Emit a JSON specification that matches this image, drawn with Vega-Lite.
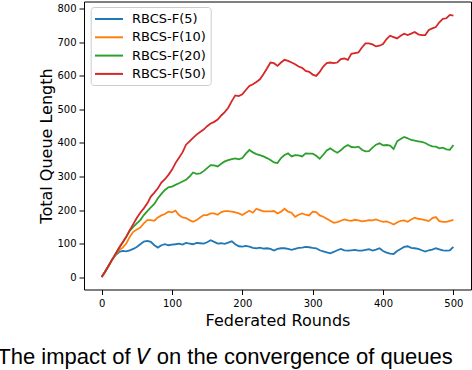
{
  "$schema": "https://vega.github.io/schema/vega-lite/v6.json",
  "width": 387,
  "height": 288,
  "autosize": {"type": "none"},
  "padding": {"left": 84, "top": 1.5, "right": 1, "bottom": 80.5},
  "background": "white",
  "title": {
    "text": "The impact of 𝑉 on the convergence of queues",
    "orient": "bottom",
    "frame": "group",
    "anchor": "middle",
    "dx": -52.5,
    "offset": 36,
    "baseline": "alphabetic",
    "font": "Liberation Sans",
    "fontSize": 22,
    "fontWeight": "normal",
    "color": "black"
  },
  "config": {
    "view": {"stroke": "black", "strokeWidth": 1},
    "axis": {
      "domain": false,
      "grid": false,
      "ticks": true,
      "tickColor": "black",
      "tickSize": 5,
      "tickWidth": 1,
      "labelFont": "DejaVu Sans",
      "labelFontSize": 10,
      "labelColor": "black",
      "titleFont": "DejaVu Sans",
      "titleFontSize": 16,
      "titleFontWeight": "normal",
      "titleColor": "black"
    }
  },
  "data": {
    "values": [
      {"r":0,"s":"RBCS-F(5)","v":0},{"r":5,"s":"RBCS-F(5)","v":16},{"r":10,"s":"RBCS-F(5)","v":34},{"r":15,"s":"RBCS-F(5)","v":52},{"r":20,"s":"RBCS-F(5)","v":66},{"r":25,"s":"RBCS-F(5)","v":75},{"r":30,"s":"RBCS-F(5)","v":78},{"r":35,"s":"RBCS-F(5)","v":77},{"r":40,"s":"RBCS-F(5)","v":80},{"r":45,"s":"RBCS-F(5)","v":84},{"r":50,"s":"RBCS-F(5)","v":90},{"r":55,"s":"RBCS-F(5)","v":98},{"r":60,"s":"RBCS-F(5)","v":106},{"r":65,"s":"RBCS-F(5)","v":108},{"r":70,"s":"RBCS-F(5)","v":105},{"r":75,"s":"RBCS-F(5)","v":95},{"r":80,"s":"RBCS-F(5)","v":88},{"r":85,"s":"RBCS-F(5)","v":95},{"r":90,"s":"RBCS-F(5)","v":98},{"r":95,"s":"RBCS-F(5)","v":95},{"r":100,"s":"RBCS-F(5)","v":97},{"r":105,"s":"RBCS-F(5)","v":98},{"r":110,"s":"RBCS-F(5)","v":100},{"r":115,"s":"RBCS-F(5)","v":97},{"r":120,"s":"RBCS-F(5)","v":102},{"r":125,"s":"RBCS-F(5)","v":100},{"r":130,"s":"RBCS-F(5)","v":98},{"r":135,"s":"RBCS-F(5)","v":102},{"r":140,"s":"RBCS-F(5)","v":101},{"r":145,"s":"RBCS-F(5)","v":100},{"r":150,"s":"RBCS-F(5)","v":104},{"r":155,"s":"RBCS-F(5)","v":110},{"r":160,"s":"RBCS-F(5)","v":105},{"r":165,"s":"RBCS-F(5)","v":100},{"r":170,"s":"RBCS-F(5)","v":101},{"r":175,"s":"RBCS-F(5)","v":99},{"r":180,"s":"RBCS-F(5)","v":103},{"r":185,"s":"RBCS-F(5)","v":107},{"r":190,"s":"RBCS-F(5)","v":98},{"r":195,"s":"RBCS-F(5)","v":92},{"r":200,"s":"RBCS-F(5)","v":91},{"r":205,"s":"RBCS-F(5)","v":93},{"r":210,"s":"RBCS-F(5)","v":91},{"r":215,"s":"RBCS-F(5)","v":87},{"r":220,"s":"RBCS-F(5)","v":86},{"r":225,"s":"RBCS-F(5)","v":88},{"r":230,"s":"RBCS-F(5)","v":85},{"r":235,"s":"RBCS-F(5)","v":86},{"r":240,"s":"RBCS-F(5)","v":84},{"r":245,"s":"RBCS-F(5)","v":79},{"r":250,"s":"RBCS-F(5)","v":84},{"r":255,"s":"RBCS-F(5)","v":86},{"r":260,"s":"RBCS-F(5)","v":86},{"r":265,"s":"RBCS-F(5)","v":84},{"r":270,"s":"RBCS-F(5)","v":81},{"r":275,"s":"RBCS-F(5)","v":84},{"r":280,"s":"RBCS-F(5)","v":87},{"r":285,"s":"RBCS-F(5)","v":88},{"r":290,"s":"RBCS-F(5)","v":90},{"r":295,"s":"RBCS-F(5)","v":89},{"r":300,"s":"RBCS-F(5)","v":87},{"r":305,"s":"RBCS-F(5)","v":86},{"r":310,"s":"RBCS-F(5)","v":80},{"r":315,"s":"RBCS-F(5)","v":77},{"r":320,"s":"RBCS-F(5)","v":74},{"r":325,"s":"RBCS-F(5)","v":71},{"r":330,"s":"RBCS-F(5)","v":75},{"r":335,"s":"RBCS-F(5)","v":80},{"r":340,"s":"RBCS-F(5)","v":84},{"r":345,"s":"RBCS-F(5)","v":80},{"r":350,"s":"RBCS-F(5)","v":79},{"r":355,"s":"RBCS-F(5)","v":80},{"r":360,"s":"RBCS-F(5)","v":81},{"r":365,"s":"RBCS-F(5)","v":79},{"r":370,"s":"RBCS-F(5)","v":79},{"r":375,"s":"RBCS-F(5)","v":81},{"r":380,"s":"RBCS-F(5)","v":83},{"r":385,"s":"RBCS-F(5)","v":79},{"r":390,"s":"RBCS-F(5)","v":82},{"r":395,"s":"RBCS-F(5)","v":86},{"r":400,"s":"RBCS-F(5)","v":78},{"r":405,"s":"RBCS-F(5)","v":73},{"r":410,"s":"RBCS-F(5)","v":70},{"r":415,"s":"RBCS-F(5)","v":69},{"r":420,"s":"RBCS-F(5)","v":78},{"r":425,"s":"RBCS-F(5)","v":84},{"r":430,"s":"RBCS-F(5)","v":90},{"r":435,"s":"RBCS-F(5)","v":92},{"r":440,"s":"RBCS-F(5)","v":87},{"r":445,"s":"RBCS-F(5)","v":86},{"r":450,"s":"RBCS-F(5)","v":84},{"r":455,"s":"RBCS-F(5)","v":80},{"r":460,"s":"RBCS-F(5)","v":76},{"r":465,"s":"RBCS-F(5)","v":80},{"r":470,"s":"RBCS-F(5)","v":82},{"r":475,"s":"RBCS-F(5)","v":86},{"r":480,"s":"RBCS-F(5)","v":83},{"r":485,"s":"RBCS-F(5)","v":80},{"r":490,"s":"RBCS-F(5)","v":79},{"r":495,"s":"RBCS-F(5)","v":80},{"r":500,"s":"RBCS-F(5)","v":90},
      {"r":0,"s":"RBCS-F(10)","v":0},{"r":5,"s":"RBCS-F(10)","v":16},{"r":10,"s":"RBCS-F(10)","v":34},{"r":15,"s":"RBCS-F(10)","v":52},{"r":20,"s":"RBCS-F(10)","v":68},{"r":25,"s":"RBCS-F(10)","v":80},{"r":30,"s":"RBCS-F(10)","v":88},{"r":35,"s":"RBCS-F(10)","v":100},{"r":40,"s":"RBCS-F(10)","v":120},{"r":45,"s":"RBCS-F(10)","v":135},{"r":50,"s":"RBCS-F(10)","v":142},{"r":55,"s":"RBCS-F(10)","v":148},{"r":60,"s":"RBCS-F(10)","v":160},{"r":65,"s":"RBCS-F(10)","v":170},{"r":70,"s":"RBCS-F(10)","v":170},{"r":75,"s":"RBCS-F(10)","v":168},{"r":80,"s":"RBCS-F(10)","v":178},{"r":85,"s":"RBCS-F(10)","v":184},{"r":90,"s":"RBCS-F(10)","v":188},{"r":95,"s":"RBCS-F(10)","v":195},{"r":100,"s":"RBCS-F(10)","v":193},{"r":105,"s":"RBCS-F(10)","v":198},{"r":110,"s":"RBCS-F(10)","v":185},{"r":115,"s":"RBCS-F(10)","v":178},{"r":120,"s":"RBCS-F(10)","v":176},{"r":125,"s":"RBCS-F(10)","v":170},{"r":130,"s":"RBCS-F(10)","v":165},{"r":135,"s":"RBCS-F(10)","v":170},{"r":140,"s":"RBCS-F(10)","v":178},{"r":145,"s":"RBCS-F(10)","v":185},{"r":150,"s":"RBCS-F(10)","v":185},{"r":155,"s":"RBCS-F(10)","v":190},{"r":160,"s":"RBCS-F(10)","v":190},{"r":165,"s":"RBCS-F(10)","v":186},{"r":170,"s":"RBCS-F(10)","v":194},{"r":175,"s":"RBCS-F(10)","v":197},{"r":180,"s":"RBCS-F(10)","v":197},{"r":185,"s":"RBCS-F(10)","v":195},{"r":190,"s":"RBCS-F(10)","v":193},{"r":195,"s":"RBCS-F(10)","v":190},{"r":200,"s":"RBCS-F(10)","v":185},{"r":205,"s":"RBCS-F(10)","v":192},{"r":210,"s":"RBCS-F(10)","v":198},{"r":215,"s":"RBCS-F(10)","v":192},{"r":220,"s":"RBCS-F(10)","v":204},{"r":225,"s":"RBCS-F(10)","v":200},{"r":230,"s":"RBCS-F(10)","v":196},{"r":235,"s":"RBCS-F(10)","v":196},{"r":240,"s":"RBCS-F(10)","v":196},{"r":245,"s":"RBCS-F(10)","v":197},{"r":250,"s":"RBCS-F(10)","v":190},{"r":255,"s":"RBCS-F(10)","v":195},{"r":260,"s":"RBCS-F(10)","v":204},{"r":265,"s":"RBCS-F(10)","v":195},{"r":270,"s":"RBCS-F(10)","v":192},{"r":275,"s":"RBCS-F(10)","v":180},{"r":280,"s":"RBCS-F(10)","v":186},{"r":285,"s":"RBCS-F(10)","v":190},{"r":290,"s":"RBCS-F(10)","v":186},{"r":295,"s":"RBCS-F(10)","v":184},{"r":300,"s":"RBCS-F(10)","v":195},{"r":305,"s":"RBCS-F(10)","v":194},{"r":310,"s":"RBCS-F(10)","v":184},{"r":315,"s":"RBCS-F(10)","v":180},{"r":320,"s":"RBCS-F(10)","v":174},{"r":325,"s":"RBCS-F(10)","v":168},{"r":330,"s":"RBCS-F(10)","v":162},{"r":335,"s":"RBCS-F(10)","v":164},{"r":340,"s":"RBCS-F(10)","v":168},{"r":345,"s":"RBCS-F(10)","v":172},{"r":350,"s":"RBCS-F(10)","v":169},{"r":355,"s":"RBCS-F(10)","v":168},{"r":360,"s":"RBCS-F(10)","v":171},{"r":365,"s":"RBCS-F(10)","v":169},{"r":370,"s":"RBCS-F(10)","v":166},{"r":375,"s":"RBCS-F(10)","v":168},{"r":380,"s":"RBCS-F(10)","v":170},{"r":385,"s":"RBCS-F(10)","v":169},{"r":390,"s":"RBCS-F(10)","v":172},{"r":395,"s":"RBCS-F(10)","v":168},{"r":400,"s":"RBCS-F(10)","v":165},{"r":405,"s":"RBCS-F(10)","v":166},{"r":410,"s":"RBCS-F(10)","v":162},{"r":415,"s":"RBCS-F(10)","v":157},{"r":420,"s":"RBCS-F(10)","v":163},{"r":425,"s":"RBCS-F(10)","v":168},{"r":430,"s":"RBCS-F(10)","v":169},{"r":435,"s":"RBCS-F(10)","v":165},{"r":440,"s":"RBCS-F(10)","v":172},{"r":445,"s":"RBCS-F(10)","v":177},{"r":450,"s":"RBCS-F(10)","v":174},{"r":455,"s":"RBCS-F(10)","v":172},{"r":460,"s":"RBCS-F(10)","v":170},{"r":465,"s":"RBCS-F(10)","v":167},{"r":470,"s":"RBCS-F(10)","v":176},{"r":475,"s":"RBCS-F(10)","v":179},{"r":480,"s":"RBCS-F(10)","v":167},{"r":485,"s":"RBCS-F(10)","v":165},{"r":490,"s":"RBCS-F(10)","v":165},{"r":495,"s":"RBCS-F(10)","v":168},{"r":500,"s":"RBCS-F(10)","v":171},
      {"r":0,"s":"RBCS-F(20)","v":0},{"r":5,"s":"RBCS-F(20)","v":16},{"r":10,"s":"RBCS-F(20)","v":34},{"r":15,"s":"RBCS-F(20)","v":52},{"r":20,"s":"RBCS-F(20)","v":70},{"r":25,"s":"RBCS-F(20)","v":87},{"r":30,"s":"RBCS-F(20)","v":103},{"r":35,"s":"RBCS-F(20)","v":120},{"r":40,"s":"RBCS-F(20)","v":138},{"r":45,"s":"RBCS-F(20)","v":150},{"r":50,"s":"RBCS-F(20)","v":160},{"r":55,"s":"RBCS-F(20)","v":170},{"r":60,"s":"RBCS-F(20)","v":185},{"r":65,"s":"RBCS-F(20)","v":197},{"r":70,"s":"RBCS-F(20)","v":208},{"r":75,"s":"RBCS-F(20)","v":218},{"r":80,"s":"RBCS-F(20)","v":235},{"r":85,"s":"RBCS-F(20)","v":248},{"r":90,"s":"RBCS-F(20)","v":260},{"r":95,"s":"RBCS-F(20)","v":268},{"r":100,"s":"RBCS-F(20)","v":270},{"r":105,"s":"RBCS-F(20)","v":275},{"r":110,"s":"RBCS-F(20)","v":280},{"r":115,"s":"RBCS-F(20)","v":285},{"r":120,"s":"RBCS-F(20)","v":290},{"r":125,"s":"RBCS-F(20)","v":300},{"r":130,"s":"RBCS-F(20)","v":312},{"r":135,"s":"RBCS-F(20)","v":308},{"r":140,"s":"RBCS-F(20)","v":309},{"r":145,"s":"RBCS-F(20)","v":316},{"r":150,"s":"RBCS-F(20)","v":325},{"r":155,"s":"RBCS-F(20)","v":334},{"r":160,"s":"RBCS-F(20)","v":333},{"r":165,"s":"RBCS-F(20)","v":330},{"r":170,"s":"RBCS-F(20)","v":338},{"r":175,"s":"RBCS-F(20)","v":345},{"r":180,"s":"RBCS-F(20)","v":349},{"r":185,"s":"RBCS-F(20)","v":352},{"r":190,"s":"RBCS-F(20)","v":354},{"r":195,"s":"RBCS-F(20)","v":351},{"r":200,"s":"RBCS-F(20)","v":355},{"r":205,"s":"RBCS-F(20)","v":368},{"r":210,"s":"RBCS-F(20)","v":379},{"r":215,"s":"RBCS-F(20)","v":372},{"r":220,"s":"RBCS-F(20)","v":367},{"r":225,"s":"RBCS-F(20)","v":364},{"r":230,"s":"RBCS-F(20)","v":360},{"r":235,"s":"RBCS-F(20)","v":355},{"r":240,"s":"RBCS-F(20)","v":349},{"r":245,"s":"RBCS-F(20)","v":342},{"r":250,"s":"RBCS-F(20)","v":340},{"r":255,"s":"RBCS-F(20)","v":355},{"r":260,"s":"RBCS-F(20)","v":364},{"r":265,"s":"RBCS-F(20)","v":369},{"r":270,"s":"RBCS-F(20)","v":360},{"r":275,"s":"RBCS-F(20)","v":364},{"r":280,"s":"RBCS-F(20)","v":363},{"r":285,"s":"RBCS-F(20)","v":360},{"r":290,"s":"RBCS-F(20)","v":369},{"r":295,"s":"RBCS-F(20)","v":368},{"r":300,"s":"RBCS-F(20)","v":368},{"r":305,"s":"RBCS-F(20)","v":362},{"r":310,"s":"RBCS-F(20)","v":353},{"r":315,"s":"RBCS-F(20)","v":365},{"r":320,"s":"RBCS-F(20)","v":378},{"r":325,"s":"RBCS-F(20)","v":384},{"r":330,"s":"RBCS-F(20)","v":377},{"r":335,"s":"RBCS-F(20)","v":371},{"r":340,"s":"RBCS-F(20)","v":378},{"r":345,"s":"RBCS-F(20)","v":388},{"r":350,"s":"RBCS-F(20)","v":394},{"r":355,"s":"RBCS-F(20)","v":388},{"r":360,"s":"RBCS-F(20)","v":387},{"r":365,"s":"RBCS-F(20)","v":389},{"r":370,"s":"RBCS-F(20)","v":380},{"r":375,"s":"RBCS-F(20)","v":375},{"r":380,"s":"RBCS-F(20)","v":376},{"r":385,"s":"RBCS-F(20)","v":386},{"r":390,"s":"RBCS-F(20)","v":395},{"r":395,"s":"RBCS-F(20)","v":399},{"r":400,"s":"RBCS-F(20)","v":393},{"r":405,"s":"RBCS-F(20)","v":394},{"r":410,"s":"RBCS-F(20)","v":392},{"r":415,"s":"RBCS-F(20)","v":382},{"r":420,"s":"RBCS-F(20)","v":405},{"r":425,"s":"RBCS-F(20)","v":412},{"r":430,"s":"RBCS-F(20)","v":418},{"r":435,"s":"RBCS-F(20)","v":414},{"r":440,"s":"RBCS-F(20)","v":409},{"r":445,"s":"RBCS-F(20)","v":407},{"r":450,"s":"RBCS-F(20)","v":405},{"r":455,"s":"RBCS-F(20)","v":403},{"r":460,"s":"RBCS-F(20)","v":400},{"r":465,"s":"RBCS-F(20)","v":394},{"r":470,"s":"RBCS-F(20)","v":390},{"r":475,"s":"RBCS-F(20)","v":389},{"r":480,"s":"RBCS-F(20)","v":384},{"r":485,"s":"RBCS-F(20)","v":386},{"r":490,"s":"RBCS-F(20)","v":381},{"r":495,"s":"RBCS-F(20)","v":380},{"r":500,"s":"RBCS-F(20)","v":394},
      {"r":0,"s":"RBCS-F(50)","v":0},{"r":5,"s":"RBCS-F(50)","v":16},{"r":10,"s":"RBCS-F(50)","v":34},{"r":15,"s":"RBCS-F(50)","v":52},{"r":20,"s":"RBCS-F(50)","v":70},{"r":25,"s":"RBCS-F(50)","v":88},{"r":30,"s":"RBCS-F(50)","v":104},{"r":35,"s":"RBCS-F(50)","v":120},{"r":40,"s":"RBCS-F(50)","v":140},{"r":45,"s":"RBCS-F(50)","v":158},{"r":50,"s":"RBCS-F(50)","v":176},{"r":55,"s":"RBCS-F(50)","v":192},{"r":60,"s":"RBCS-F(50)","v":205},{"r":65,"s":"RBCS-F(50)","v":220},{"r":70,"s":"RBCS-F(50)","v":240},{"r":75,"s":"RBCS-F(50)","v":252},{"r":80,"s":"RBCS-F(50)","v":265},{"r":85,"s":"RBCS-F(50)","v":282},{"r":90,"s":"RBCS-F(50)","v":292},{"r":95,"s":"RBCS-F(50)","v":305},{"r":100,"s":"RBCS-F(50)","v":320},{"r":105,"s":"RBCS-F(50)","v":340},{"r":110,"s":"RBCS-F(50)","v":356},{"r":115,"s":"RBCS-F(50)","v":372},{"r":120,"s":"RBCS-F(50)","v":395},{"r":125,"s":"RBCS-F(50)","v":405},{"r":130,"s":"RBCS-F(50)","v":415},{"r":135,"s":"RBCS-F(50)","v":425},{"r":140,"s":"RBCS-F(50)","v":433},{"r":145,"s":"RBCS-F(50)","v":440},{"r":150,"s":"RBCS-F(50)","v":450},{"r":155,"s":"RBCS-F(50)","v":458},{"r":160,"s":"RBCS-F(50)","v":463},{"r":165,"s":"RBCS-F(50)","v":470},{"r":170,"s":"RBCS-F(50)","v":482},{"r":175,"s":"RBCS-F(50)","v":492},{"r":180,"s":"RBCS-F(50)","v":505},{"r":185,"s":"RBCS-F(50)","v":525},{"r":190,"s":"RBCS-F(50)","v":542},{"r":195,"s":"RBCS-F(50)","v":540},{"r":200,"s":"RBCS-F(50)","v":545},{"r":205,"s":"RBCS-F(50)","v":558},{"r":210,"s":"RBCS-F(50)","v":570},{"r":215,"s":"RBCS-F(50)","v":575},{"r":220,"s":"RBCS-F(50)","v":582},{"r":225,"s":"RBCS-F(50)","v":590},{"r":230,"s":"RBCS-F(50)","v":605},{"r":235,"s":"RBCS-F(50)","v":622},{"r":240,"s":"RBCS-F(50)","v":640},{"r":245,"s":"RBCS-F(50)","v":638},{"r":250,"s":"RBCS-F(50)","v":630},{"r":255,"s":"RBCS-F(50)","v":640},{"r":260,"s":"RBCS-F(50)","v":648},{"r":265,"s":"RBCS-F(50)","v":645},{"r":270,"s":"RBCS-F(50)","v":640},{"r":275,"s":"RBCS-F(50)","v":635},{"r":280,"s":"RBCS-F(50)","v":628},{"r":285,"s":"RBCS-F(50)","v":624},{"r":290,"s":"RBCS-F(50)","v":615},{"r":295,"s":"RBCS-F(50)","v":612},{"r":300,"s":"RBCS-F(50)","v":604},{"r":305,"s":"RBCS-F(50)","v":600},{"r":310,"s":"RBCS-F(50)","v":612},{"r":315,"s":"RBCS-F(50)","v":628},{"r":320,"s":"RBCS-F(50)","v":638},{"r":325,"s":"RBCS-F(50)","v":640},{"r":330,"s":"RBCS-F(50)","v":638},{"r":335,"s":"RBCS-F(50)","v":640},{"r":340,"s":"RBCS-F(50)","v":650},{"r":345,"s":"RBCS-F(50)","v":652},{"r":350,"s":"RBCS-F(50)","v":648},{"r":355,"s":"RBCS-F(50)","v":666},{"r":360,"s":"RBCS-F(50)","v":668},{"r":365,"s":"RBCS-F(50)","v":670},{"r":370,"s":"RBCS-F(50)","v":685},{"r":375,"s":"RBCS-F(50)","v":697},{"r":380,"s":"RBCS-F(50)","v":697},{"r":385,"s":"RBCS-F(50)","v":694},{"r":390,"s":"RBCS-F(50)","v":688},{"r":395,"s":"RBCS-F(50)","v":690},{"r":400,"s":"RBCS-F(50)","v":695},{"r":405,"s":"RBCS-F(50)","v":710},{"r":410,"s":"RBCS-F(50)","v":720},{"r":415,"s":"RBCS-F(50)","v":716},{"r":420,"s":"RBCS-F(50)","v":712},{"r":425,"s":"RBCS-F(50)","v":720},{"r":430,"s":"RBCS-F(50)","v":726},{"r":435,"s":"RBCS-F(50)","v":722},{"r":440,"s":"RBCS-F(50)","v":726},{"r":445,"s":"RBCS-F(50)","v":731},{"r":450,"s":"RBCS-F(50)","v":724},{"r":455,"s":"RBCS-F(50)","v":722},{"r":460,"s":"RBCS-F(50)","v":722},{"r":465,"s":"RBCS-F(50)","v":737},{"r":470,"s":"RBCS-F(50)","v":742},{"r":475,"s":"RBCS-F(50)","v":746},{"r":480,"s":"RBCS-F(50)","v":760},{"r":485,"s":"RBCS-F(50)","v":770},{"r":490,"s":"RBCS-F(50)","v":772},{"r":495,"s":"RBCS-F(50)","v":782},{"r":500,"s":"RBCS-F(50)","v":780}
    ]
  },
  "mark": {"type": "line", "strokeWidth": 1.8, "clip": true},
  "encoding": {
    "x": {
      "field": "r",
      "type": "quantitative",
      "scale": {"domain": [-25, 525], "nice": false, "zero": false},
      "axis": {"values": [0, 100, 200, 300, 400, 500], "title": "Federated Rounds", "labelPadding": 3.5, "titlePadding": 4}
    },
    "y": {
      "field": "v",
      "type": "quantitative",
      "scale": {"domain": [-37, 822], "nice": false, "zero": false},
      "axis": {"values": [0, 100, 200, 300, 400, 500, 600, 700, 800], "title": "Total Queue Length", "labelPadding": 3, "titlePadding": 2}
    },
    "color": {
      "field": "s",
      "type": "nominal",
      "scale": {
        "domain": ["RBCS-F(5)", "RBCS-F(10)", "RBCS-F(20)", "RBCS-F(50)"],
        "range": ["#1f77b4", "#ff7f0e", "#2ca02c", "#d62728"]
      },
      "legend": {
        "orient": "none",
        "legendX": 6.7,
        "legendY": 5.5,
        "title": null,
        "symbolType": "M-2,0H2",
        "symbolSize": 196,
        "symbolStrokeWidth": 2,
        "symbolOffset": 6.3,
        "labelFont": "DejaVu Sans",
        "labelFontSize": 13,
        "labelColor": "black",
        "labelOffset": 15,
        "padding": 4,
        "rowPadding": 3.3,
        "fillColor": "rgba(255,255,255,0.8)",
        "strokeColor": "#cccccc",
        "cornerRadius": 3
      }
    }
  }
}
